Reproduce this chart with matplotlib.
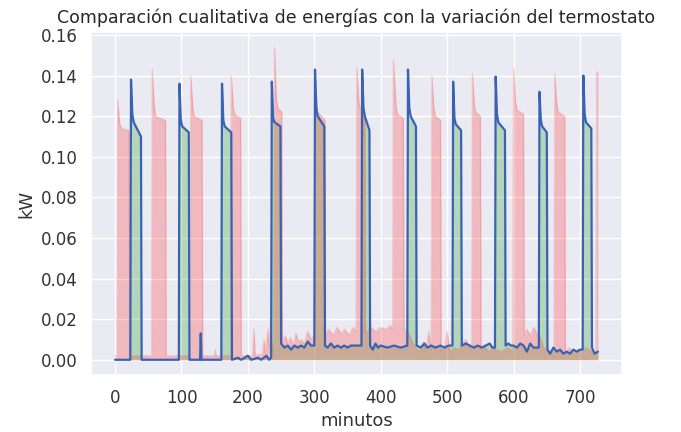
import matplotlib
matplotlib.use("Agg")
import matplotlib.pyplot as plt
import seaborn as sns

# Blue series (thermostat variation) - minute, kW vertices
t_blue = [0, 23, 24, 26, 28, 39, 40, 96, 97, 99, 101, 111, 112, 128, 129, 130,
          160, 161, 163, 165, 175, 176, 185, 190, 200, 205, 215, 220, 228, 232, 235,
          236, 238, 240, 249, 250, 255, 260, 265, 270, 275, 280, 285, 290, 295, 300,
          301, 303, 305, 315, 316, 320, 325, 330, 335, 340, 345, 350, 355, 365, 371,
          372, 374, 376, 383, 384, 388, 392, 396, 400, 410, 420, 430, 440,
          441, 443, 445, 453, 454, 460, 466, 470, 476, 482, 490, 496, 502, 508,
          509, 511, 513, 521, 522, 528, 534, 540, 546, 552, 558, 564, 568, 572,
          573, 575, 577, 587, 588, 592, 596, 600, 605, 610, 615, 620, 625, 630, 638,
          639, 641, 643, 650, 651, 655, 660, 665, 670, 675, 680, 685, 690, 695, 700, 704,
          705, 707, 709, 717, 718, 722, 727]
kw_blue = [0.000, 0.000, 0.138, 0.121, 0.117, 0.110, 0.000, 0.000, 0.136, 0.118, 0.115, 0.112, 0.000, 0.000, 0.013, 0.000,
           0.000, 0.136, 0.118, 0.115, 0.112, 0.000, 0.001, 0.000, 0.002, 0.000, 0.001, 0.000, 0.002, 0.000, 0.001,
           0.137, 0.119, 0.117, 0.115, 0.008, 0.006, 0.007, 0.005, 0.007, 0.006, 0.007, 0.006, 0.009, 0.007, 0.007,
           0.143, 0.124, 0.120, 0.115, 0.007, 0.006, 0.008, 0.006, 0.007, 0.006, 0.007, 0.006, 0.007, 0.007, 0.007,
           0.143, 0.124, 0.120, 0.113, 0.007, 0.005, 0.008, 0.006, 0.007, 0.006, 0.007, 0.006, 0.007,
           0.143, 0.124, 0.120, 0.115, 0.007, 0.006, 0.008, 0.006, 0.007, 0.006, 0.007, 0.006, 0.007, 0.007,
           0.137, 0.119, 0.116, 0.113, 0.007, 0.008, 0.007, 0.006, 0.007, 0.006, 0.007, 0.008, 0.006, 0.006,
           0.1395, 0.121, 0.117, 0.113, 0.007, 0.008, 0.007, 0.007, 0.006, 0.008, 0.007, 0.004, 0.008, 0.006, 0.006,
           0.132, 0.118, 0.115, 0.112, 0.005, 0.003, 0.006, 0.004, 0.005, 0.003, 0.004, 0.003, 0.005, 0.004, 0.005, 0.005,
           0.140, 0.121, 0.117, 0.114, 0.006, 0.003, 0.004]

# Red series (reference energy) - minute, kW vertices
t_red = [0, 3, 4, 7, 10, 21, 22, 40, 55, 56, 59, 61, 76, 77, 113, 114, 117, 119, 131, 132,
         150, 151, 152, 174, 175, 178, 180, 189, 190, 207, 209, 211, 222, 224, 226, 230, 232, 234, 236, 239,
         240, 243, 245, 251, 252, 256, 260, 264, 268, 272, 276, 280, 285, 290, 295, 300,
         302, 305, 316, 317, 322, 328, 334, 340, 346, 352, 358, 363,
         364, 367, 369, 376, 377, 385, 392, 400, 408, 414, 418,
         419, 423, 425, 434, 435, 440, 446, 452, 458, 464, 468, 472, 476,
         477, 480, 482, 490, 491, 496, 500, 504, 510, 516, 522, 528, 534, 537,
         538, 541, 543, 550, 551, 556, 562, 568, 575, 582, 590, 596, 599,
         600, 603, 605, 615, 616, 620, 625, 630, 635, 640, 645, 650, 655, 661,
         662, 665, 667, 677, 678, 684, 690, 696, 702, 708, 714, 720, 724, 725, 727]
kw_red = [0.002, 0.002, 0.128, 0.116, 0.114, 0.113, 0.002, 0.002, 0.002, 0.143, 0.125, 0.120, 0.118, 0.002, 0.002, 0.140, 0.124, 0.120, 0.118, 0.002,
          0.002, 0.005, 0.002, 0.002, 0.140, 0.124, 0.121, 0.119, 0.002, 0.002, 0.015, 0.002, 0.003, 0.010, 0.003, 0.015, 0.006, 0.020, 0.008, 0.005,
          0.154, 0.128, 0.124, 0.122, 0.009, 0.012, 0.008, 0.011, 0.007, 0.013, 0.009, 0.010, 0.008, 0.014, 0.010, 0.012,
          0.132, 0.122, 0.118, 0.013, 0.015, 0.012, 0.016, 0.013, 0.015, 0.012, 0.016, 0.014,
          0.144, 0.127, 0.124, 0.122, 0.013, 0.016, 0.014, 0.016, 0.015, 0.017, 0.015,
          0.148, 0.125, 0.121, 0.119, 0.015, 0.014, 0.010, 0.006, 0.004, 0.009, 0.004, 0.014, 0.005,
          0.140, 0.124, 0.120, 0.118, 0.004, 0.006, 0.014, 0.004, 0.006, 0.005, 0.008, 0.010, 0.006, 0.005,
          0.141, 0.125, 0.122, 0.120, 0.005, 0.007, 0.004, 0.006, 0.005, 0.004, 0.006, 0.005, 0.005,
          0.1435, 0.127, 0.123, 0.121, 0.012, 0.015, 0.012, 0.016, 0.013, 0.011, 0.006, 0.005, 0.004, 0.004,
          0.141, 0.126, 0.122, 0.120, 0.004, 0.006, 0.003, 0.005, 0.004, 0.006, 0.005, 0.003, 0.004, 0.142, 0.141]

TITLE = "Comparación cualitativa de energías con la variación del termostato"
XLABEL = "minutos"
YLABEL = "kW"

sns.set_theme(style="darkgrid")
plt.rcParams['font.family'] = ['DejaVu Sans']

fig = plt.figure(figsize=(6.81, 4.32), dpi=100)
ax = fig.add_axes([0.1335, 0.131, 0.78, 0.796])

ax.fill_between(t_blue, kw_blue, color="#2ca02c", alpha=0.28, linewidth=0)
ax.fill_between(t_red, kw_red, color="#ff3030", alpha=0.26, linewidth=0)
ax.plot(t_red, kw_red, color="#ff3030", alpha=0.18, linewidth=1)
ax.plot(t_blue, kw_blue, color="#3a62b2", linewidth=1.6)

ax.set_xticks([0, 100, 200, 300, 400, 500, 600, 700])
ax.set_yticks([0.00, 0.02, 0.04, 0.06, 0.08, 0.10, 0.12, 0.14, 0.16])
ax.set_yticklabels([f"{v:.2f}" for v in [0.00, 0.02, 0.04, 0.06, 0.08, 0.10, 0.12, 0.14, 0.16]])
ax.tick_params(labelsize=12, colors="#333333")
ax.set_title(TITLE, fontsize=12.5, color="#262626")
ax.set_xlabel(XLABEL, fontsize=13, color="#333333")
ax.set_ylabel(YLABEL, fontsize=13, color="#333333")

fig.savefig("out.png", dpi=100)
